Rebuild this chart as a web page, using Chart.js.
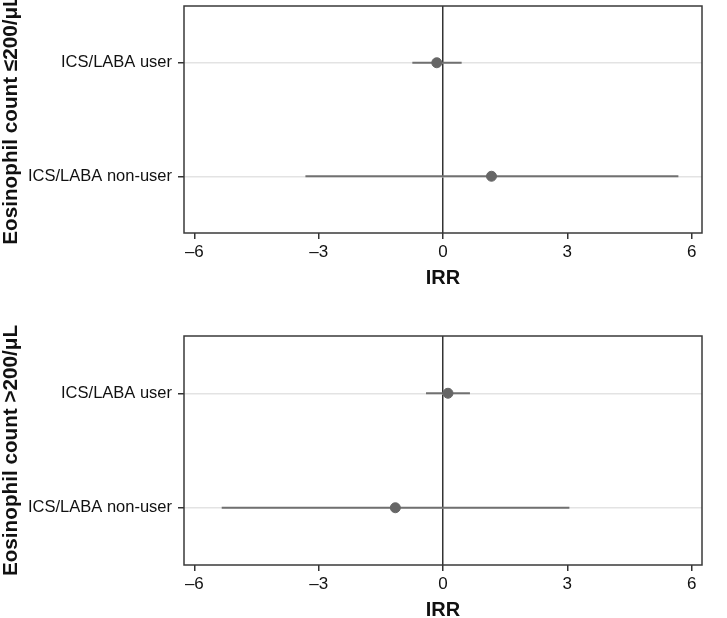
<!DOCTYPE html>
<html>
<head>
<meta charset="utf-8">
<script src="https://cdn.jsdelivr.net/npm/chart.js@4"></script>
<style>
    html, body { margin: 0; padding: 0; background: #fff; overflow: hidden; }
    #wrap { position: relative; width: 727px; height: 618px; overflow: hidden; }
    .panel { position: absolute; left: 0; width: 727px; }
    #topPanel { top: 0; height: 300px; }
    #bottomPanel { top: 300px; height: 322px; }
</style>
</head>
<body>
<div id="wrap">
    <div class="panel" id="topPanel"><canvas id="lowEos"></canvas></div>
    <div class="panel" id="bottomPanel"><canvas id="highEos"></canvas></div>
</div>
<script>
// Datos
const rowLabels = ['ICS/LABA user', 'ICS/LABA non-user'];
const xTicks = [-6, -3, 0, 3, 6];

// Eosinófilos ≤200/μL
const lowEst = [-0.15, 1.17];
const lowLo = [-0.74, -3.32];
const lowHi = [0.45, 5.68];

// Eosinófilos >200/μL
const highEst = [0.12, -1.15];
const highLo = [-0.41, -5.34];
const highHi = [0.65, 3.05];

const fontFamily = "'Liberation Sans', Arial, Helvetica, sans-serif";

// marco alrededor del área del gráfico
const framePlugin = {
    id: 'frame',
    afterDraw(chart) {
        const { ctx, chartArea: a } = chart;
        ctx.save();
        ctx.strokeStyle = '#3a3a3a';
        ctx.lineWidth = 1.5;
        ctx.strokeRect(a.left, a.top, a.right - a.left, a.bottom - a.top);
        ctx.restore();
    }
};

function makeForest(canvasId, title, est, lo, hi, padTop, padBottom) {
    const datasets = [{
        data: est.map((v, i) => ({ x: v, y: rowLabels[i] })),
        backgroundColor: '#666666',
        borderColor: '#666666',
        pointRadius: 5,
        showLine: false
    }];
    rowLabels.forEach((lab, i) => {
        datasets.push({
            data: [{ x: lo[i], y: lab }, { x: hi[i], y: lab }],
            borderColor: '#707070',
            borderWidth: 2,
            pointRadius: 0,
            showLine: true
        });
    });

    return new Chart(document.getElementById(canvasId), {
        type: 'scatter',
        data: { datasets },
        options: {
            responsive: true,
            maintainAspectRatio: false,
            animation: false,
            layout: { padding: { top: padTop, right: 25, bottom: padBottom, left: 0 } },
            plugins: {
                legend: { display: false },
                tooltip: { enabled: false }
            },
            scales: {
                x: {
                    type: 'linear',
                    min: -6.25,
                    max: 6.25,
                    afterBuildTicks: s => { s.ticks = xTicks.map(v => ({ value: v })); },
                    afterFit: s => { s.height = 57; s.paddingLeft = 0; s.paddingRight = 0; },
                    border: { display: false },
                    grid: {
                        color: c => (c.tick && c.tick.value === 0 ? '#333333' : 'rgba(0,0,0,0)'),
                        lineWidth: 1.5,
                        tickColor: '#333333',
                        tickLength: 6,
                        drawTicks: true
                    },
                    ticks: {
                        color: '#111',
                        padding: 3,
                        maxRotation: 0,
                        font: { family: fontFamily, size: 17 },
                        callback: v => (v < 0 ? '\u2013' + Math.abs(v) : String(v))
                    },
                    title: {
                        display: true,
                        text: 'IRR',
                        color: '#111',
                        padding: 0,
                        font: { family: fontFamily, size: 20, weight: 'bold', lineHeight: 1.2 }
                    }
                },
                y: {
                    type: 'category',
                    labels: rowLabels,
                    offset: true,
                    afterFit: s => { s.width = 184; s.paddingTop = 0; s.paddingBottom = 0; },
                    border: { display: false },
                    grid: {
                        offset: false,
                        color: '#e3e3e3',
                        lineWidth: 1.5,
                        tickColor: '#333333',
                        tickLength: 6
                    },
                    ticks: {
                        color: '#111',
                        padding: 6,
                        font: { family: fontFamily, size: 16.5 }
                    },
                    title: {
                        display: true,
                        text: title,
                        color: '#111',
                        padding: 0,
                        font: { family: fontFamily, size: 20.7, weight: 'bold', lineHeight: 1.05 }
                    }
                }
            }
        },
        plugins: [framePlugin]
    });
}

makeForest('lowEos', 'Eosinophil count \u2264200/\u03bcL', lowEst, lowLo, lowHi, 4, 10);
makeForest('highEos', 'Eosinophil count >200/\u03bcL', highEst, highLo, highHi, 36, 0);
</script>
</body>
</html>
